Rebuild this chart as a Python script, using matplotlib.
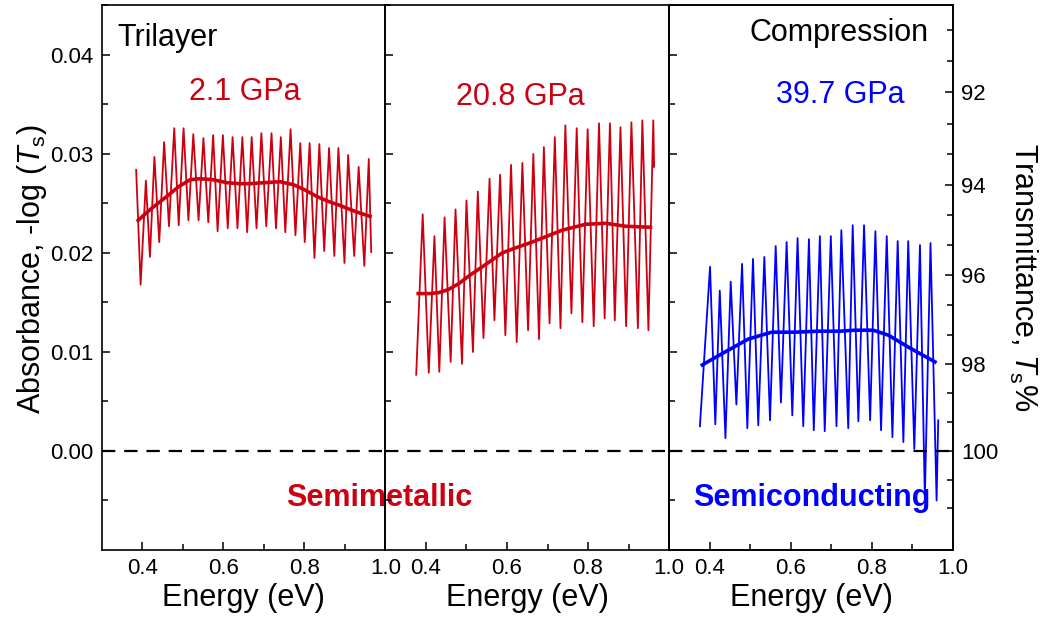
import numpy as np
import matplotlib
matplotlib.use("Agg")
import matplotlib.pyplot as plt

plt.rcParams["font.family"] = ["Liberation Sans", "DejaVu Sans"]
plt.rcParams["mathtext.fontset"] = "custom"
plt.rcParams["mathtext.rm"] = "Liberation Sans"
plt.rcParams["mathtext.it"] = "Liberation Sans:italic"

RED = "#CC0011"
BLUE = "#0000FF"

# ---- 2.1 GPa (raw spectrum, read peak/valley points) ----
e1 = [0.385, 0.396, 0.409, 0.419, 0.430, 0.442, 0.454, 0.466, 0.479, 0.490,
      0.502, 0.514, 0.526, 0.539, 0.551, 0.563, 0.575, 0.586, 0.599, 0.611,
      0.623, 0.635, 0.647, 0.659, 0.670, 0.682, 0.694, 0.706, 0.719, 0.730,
      0.742, 0.753, 0.766, 0.778, 0.790, 0.801, 0.813, 0.825, 0.837, 0.849,
      0.861, 0.874, 0.884, 0.899, 0.908, 0.923, 0.934, 0.948, 0.959, 0.965]
a1 = [0.0284, 0.0168, 0.0273, 0.0196, 0.0297, 0.0211, 0.0312, 0.0227, 0.0326, 0.0228,
      0.0326, 0.0233, 0.0320, 0.0233, 0.0316, 0.0231, 0.0319, 0.0222, 0.0319, 0.0225,
      0.0317, 0.0225, 0.0317, 0.0221, 0.0317, 0.0225, 0.0321, 0.0227, 0.0321, 0.0225,
      0.0317, 0.0221, 0.0325, 0.0218, 0.0311, 0.0211, 0.0311, 0.0195, 0.0310, 0.0202,
      0.0306, 0.0197, 0.0306, 0.0190, 0.0299, 0.0197, 0.0287, 0.0187, 0.0295, 0.0201]
s1e = [0.390, 0.420, 0.460, 0.490, 0.518, 0.543, 0.575, 0.609, 0.640, 0.666,
       0.700, 0.740, 0.773, 0.800, 0.831, 0.860, 0.888, 0.925, 0.962]
s1a = [0.0233, 0.0244, 0.0257, 0.0267, 0.0274, 0.0275, 0.0274, 0.0271, 0.0270, 0.0270,
       0.0271, 0.0272, 0.0269, 0.0264, 0.0257, 0.0252, 0.0248, 0.0242, 0.0237]

# ---- 20.8 GPa ----
e2 = [0.376, 0.392, 0.407, 0.421, 0.433, 0.446, 0.461, 0.473, 0.489, 0.500,
      0.516, 0.528, 0.542, 0.557, 0.569, 0.583, 0.596, 0.610, 0.624, 0.638,
      0.652, 0.665, 0.679, 0.691, 0.705, 0.718, 0.732, 0.744, 0.759, 0.772,
      0.786, 0.799, 0.814, 0.827, 0.841, 0.854, 0.866, 0.880, 0.894, 0.907,
      0.923, 0.934, 0.949, 0.961, 0.963]
a2 = [0.0077, 0.0239, 0.0079, 0.0217, 0.0080, 0.0236, 0.0090, 0.0244, 0.0088, 0.0253,
      0.0100, 0.0262, 0.0114, 0.0275, 0.0132, 0.0279, 0.0117, 0.0289, 0.0110, 0.0291,
      0.0122, 0.0300, 0.0113, 0.0307, 0.0129, 0.0317, 0.0124, 0.0329, 0.0139, 0.0326,
      0.0130, 0.0325, 0.0126, 0.0331, 0.0134, 0.0331, 0.0132, 0.0327, 0.0126, 0.0332,
      0.0124, 0.0334, 0.0122, 0.0334, 0.0287]
s2e = [0.381, 0.410, 0.432, 0.455, 0.481, 0.510, 0.539, 0.588, 0.620, 0.662,
       0.736, 0.794, 0.843, 0.893, 0.954]
s2a = [0.0159, 0.0159, 0.0160, 0.0163, 0.0169, 0.0178, 0.0186, 0.0200, 0.0205, 0.0211,
       0.0223, 0.0229, 0.0230, 0.0227, 0.0226]

# ---- 39.7 GPa ----
e3 = [0.376, 0.401, 0.414, 0.425, 0.439, 0.452, 0.466, 0.480, 0.493, 0.507,
      0.520, 0.535, 0.549, 0.563, 0.576, 0.590, 0.604, 0.617, 0.631, 0.645,
      0.657, 0.672, 0.684, 0.699, 0.713, 0.725, 0.742, 0.753, 0.767, 0.781,
      0.796, 0.809, 0.823, 0.837, 0.851, 0.864, 0.878, 0.890, 0.905, 0.919,
      0.931, 0.945, 0.960, 0.964]
a3 = [0.0025, 0.0186, 0.0027, 0.0162, 0.0013, 0.0171, 0.0047, 0.0189, 0.0023, 0.0194,
      0.0026, 0.0196, 0.0031, 0.0207, 0.0049, 0.0211, 0.0036, 0.0215, 0.0025, 0.0214,
      0.0021, 0.0217, 0.0020, 0.0217, 0.0025, 0.0223, 0.0023, 0.0228, 0.0030, 0.0228,
      0.0031, 0.0222, 0.0021, 0.0217, 0.0014, 0.0212, 0.0009, 0.0212, 0.0002, 0.0208,
      -0.0048, 0.0210, -0.0050, 0.0031]
s3e = [0.382, 0.438, 0.495, 0.553, 0.610, 0.668, 0.720, 0.759, 0.804, 0.841, 0.890, 0.956]
s3a = [0.0087, 0.0100, 0.0113, 0.0120, 0.0120, 0.0121, 0.0121, 0.0122, 0.0122, 0.0117,
       0.0105, 0.0090]

x_major = [0.4, 0.6, 0.8, 1.0]
x_minor = [0.5, 0.7, 0.9]
y_major = [0.00, 0.01, 0.02, 0.03, 0.04]
y_minor = [-0.005, 0.005, 0.015, 0.025, 0.035, 0.045]
trans_major = [92, 94, 96, 98, 100]
trans_minor = [90.67, 91.33, 92.67, 93.33, 94.67, 95.33, 96.67, 97.33,
               98.67, 99.33, 100.67, 101.33]

panels = [
    (e1, a1, s1e, s1a, RED, "2.1 GPa", 0.654, 0.0363),
    (e2, a2, s2e, s2a, RED, "20.8 GPa", 0.633, 0.0358),
    (e3, a3, s3e, s3a, BLUE, "39.7 GPa", 0.722, 0.0360),
]

fig = plt.figure(figsize=(10.5, 6.22), dpi=100)
L, R = 101.7 / 1050, 952.8 / 1050
B, T = 72.5 / 622, 617.5 / 622
w = (R - L) / 3

axes = []
for i, (ex, ab, se, sa, col, lab, lx, ly) in enumerate(panels):
    ax = fig.add_axes([L + i * w, B, w, T - B])
    ax.set_facecolor("none")
    ax.plot(ex, ab, color=col, lw=1.3)
    ax.plot(se, sa, color=col, lw=2.6)
    ax.axhline(0, color="black", lw=1.6, ls=(0, (6, 4)))
    ax.text(lx, ly, lab, color=col, fontsize=22, ha="center", va="center")

    ax.set_xlim(0.3, 1.0)
    ax.set_ylim(-0.00995, 0.0451)
    ax.set_xticks(x_major)
    ax.set_xticklabels([f"{v:.1f}" for v in x_major])
    ax.set_xticks(x_minor, minor=True)
    ax.set_yticks(y_major)
    ax.set_yticks(y_minor, minor=True)
    ax.tick_params(which="both", direction="in", width=1.1, labelsize=16,
                   top=False, right=False, pad=6)
    ax.tick_params(which="major", length=6)
    ax.tick_params(which="minor", length=4)
    for sp in ax.spines.values():
        sp.set_linewidth(1.2)
    if i == 0:
        ax.set_yticklabels([f"{v:.2f}" for v in y_major])
        ax.set_ylabel(r"Absorbance, -log ($T_{\mathrm{s}}$)", fontsize=22)
        ax.yaxis.set_label_coords(-0.185, 0.515)
    else:
        ax.set_yticklabels([])
    ax.set_xlabel("Energy (eV)", fontsize=22, labelpad=3)
    axes.append(ax)

ax1, ax2, ax3 = axes
ax1.text(0.338, 0.0417, "Trilayer", fontsize=22, ha="left", va="center")
ax3.text(0.9395, 0.0422, "Compression", fontsize=22, ha="right", va="center")
ax1.text(0.985, -0.0047, "Semimetallic", fontsize=22, fontweight="bold",
         color=RED, ha="center", va="center", clip_on=False)
ax3.text(0.653, -0.0047, "Semiconducting", fontsize=22, fontweight="bold",
         color=BLUE, ha="center", va="center")

# right axis: transmittance scale, T% = 100 * 10^(-A)
axr = ax3.twinx()
axr.set_ylim(ax3.get_ylim())
axr.set_yticks([-np.log10(t / 100) for t in trans_major])
axr.set_yticklabels([str(t) for t in trans_major])
axr.set_yticks([-np.log10(t / 100) for t in trans_minor], minor=True)
axr.tick_params(which="both", direction="in", width=1.1, labelsize=16, pad=6)
axr.tick_params(which="major", length=6)
axr.tick_params(which="minor", length=4)
for sp in axr.spines.values():
    sp.set_linewidth(1.2)
axr.set_ylabel(r"Transmittance, $T_{\mathrm{s}}$%", fontsize=22,
               rotation=-90, va="bottom")
axr.yaxis.set_label_coords(1.19, 0.5)

fig.savefig("out.png", dpi=100)
